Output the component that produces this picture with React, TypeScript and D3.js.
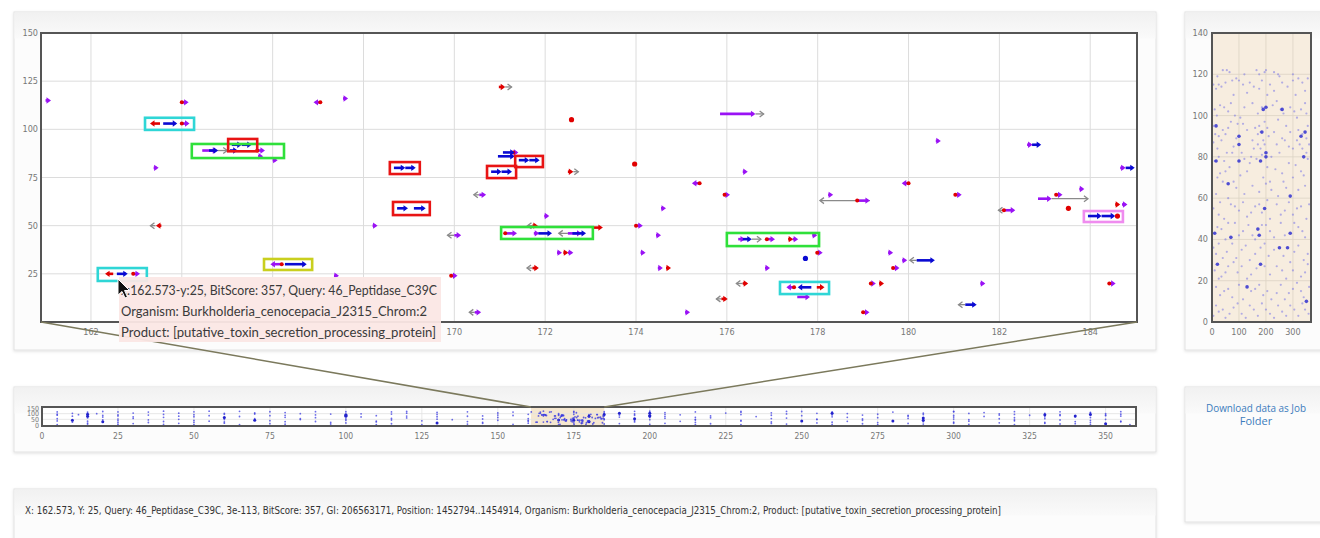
import React from 'react';
import * as d3 from 'd3';

// ---------- tick labels ----------
const mainXTicks = [162, 164, 166, 168, 170, 172, 174, 176, 178, 180, 182, 184];
const mainYTicks = [25, 50, 75, 100, 125, 150];
const ovXTicks = [0, 25, 50, 75, 100, 125, 150, 175, 200, 225, 250, 275, 300, 325, 350];
const ovYTicks = [0, 50, 100, 150];
const miniXTicks = [0, 100, 200, 300];
const miniYTicks = [0, 20, 40, 60, 80, 100, 120, 140];

// ---------- zoomed features: [start, y, signed length, red tail] ----------
const purpleFeatures: number[][] = [
  [161.0, 115, 0.12, 0], [164.0, 114, 0.15, 1], [164.0, 103, 0.17, 1], [164.45, 89, 0.33, 0],
  [165.66, 89, 0.17, 1], [165.68, 86, 0.08, 0], [166.0, 84, 0.1, 0], [163.38, 80, 0.1, 0],
  [166.2, 30, -0.25, 1], [162.93, 25, 0.15, 1], [167.35, 24, 0.1, 0], [167.05, 114, -0.15, 1],
  [167.55, 116, 0.1, 0], [168.2, 50, 0.1, 0], [171.3, 88, 0.1, 1], [175.85, 108, 0.78, 0],
  [176.35, 78, 0.1, 0], [175.4, 72, -0.17, 1], [175.95, 66, 0.12, 1], [170.55, 66, 0.15, 0],
  [171.98, 55, 0.1, 0], [174.0, 50, 0.15, 1], [174.55, 59, 0.1, 0], [171.12, 46, 0.26, 1],
  [171.75, 46, 0.12, 0], [172.5, 46, 0.3, 0], [170.0, 45, 0.15, 0], [174.44, 45, 0.1, 0],
  [172.26, 36, 0.1, 0], [172.5, 36, 0.12, 0], [174.1, 36, 0.1, 0], [174.48, 28, 0.1, 0],
  [176.84, 28, 0.1, 0], [169.93, 24, 0.14, 1], [170.45, 5, 0.14, 0], [175.08, 5, 0.1, 0],
  [180.6, 94, 0.1, 0], [182.61, 92, 0.12, 0], [184.66, 80, 0.12, 0], [180.0, 72, -0.15, 1],
  [178.23, 66, 0.1, 0], [181.03, 66, 0.14, 1], [178.87, 63, 0.28, 1], [182.85, 64, 0.3, 0],
  [183.25, 66, 0.14, 1], [183.76, 69, 0.1, 0], [182.1, 58, 0.25, 1], [184.7, 61, 0.12, 0],
  [176.25, 43, 0.15, 0], [176.88, 43, 0.18, 1], [177.45, 43, 0.12, 0], [177.88, 45, 0.1, 0],
  [177.99, 36, 0.12, 1], [179.55, 36, 0.1, 0], [179.66, 28, 0.14, 1], [179.86, 32, 0.1, 0],
  [177.48, 18, -0.17, 1], [177.55, 13, 0.28, 0], [179.17, 20, 0.1, 1], [181.58, 20, 0.1, 0],
  [184.42, 20, 0.14, 1], [179.0, 5, 0.14, 1],
];
const blueFeatures: number[][] = [
  [163.59, 103, 0.31], [165.1, 92, 0.22], [165.32, 92, 0.22], [164.6, 89, 0.2], [165.06, 89, 0.17],
  [166.27, 30, 0.48], [162.57, 25, 0.24], [168.67, 80, 0.25], [168.92, 80, 0.23], [168.74, 59, 0.24],
  [169.11, 59, 0.26], [171.07, 88, 0.26], [170.96, 86, 0.37], [171.42, 84, 0.23], [171.65, 84, 0.23],
  [170.81, 78, 0.23], [171.04, 78, 0.23], [171.85, 46, 0.3], [172.6, 46, 0.3], [182.72, 92, 0.2],
  [184.78, 80, 0.2], [183.95, 55, 0.3], [184.25, 55, 0.3], [176.35, 43, 0.2], [177.73, 33, 0.04],
  [180.18, 32, 0.4], [177.86, 18, -0.3], [181.25, 9, 0.25],
];
const redFeatures: number[][] = [
  [163.52, 103, -0.22], [162.49, 25, -0.18], [163.55, 50, -0.12], [170.98, 122, 0.14],
  [172.58, 105, 0.04], [172.5, 78, 0.12], [173.97, 82, 0.04], [171.72, 50, 0.12], [173.05, 49, 0.22],
  [172.4, 36, 0.1], [171.72, 28, 0.14], [174.66, 28, 0.1], [176.35, 20, 0.12], [175.88, 12, 0.14],
  [183.52, 59, 0.04], [184.55, 61, 0.08], [184.6, 55, 0.04], [177.35, 43, 0.08], [177.98, 18, 0.17],
  [179.35, 20, 0.08],
];
const grayFeatures: number[][] = [
  [164.78, 89, 0.22], [163.42, 50, -0.1], [171.12, 122, 0.14], [172.62, 78, 0.1], [176.63, 108, 0.18],
  [170.55, 66, -0.12], [171.72, 50, -0.1], [172.5, 46, -0.2], [170.0, 45, -0.15], [171.72, 28, -0.12],
  [170.45, 5, -0.12], [176.35, 20, -0.14], [179.15, 63, -1.1], [183.15, 64, 0.8], [182.1, 58, -0.12],
  [176.55, 43, 0.2], [180.18, 32, -0.15], [181.25, 9, -0.15], [175.88, 12, -0.1],
];

// ---------- highlight boxes: [x0, x1, yTop, yBottom, colour] ----------
const clusterBoxes: (number | string)[][] = [
  [163.19, 164.27, 106.0, 99.7, '#2fd6d6'],
  [164.22, 166.25, 92.4, 85.1, '#2fe03a'],
  [165.02, 165.66, 95.0, 88.6, '#e81414'],
  [168.58, 169.24, 83.0, 76.8, '#e81414'],
  [168.65, 169.46, 62.3, 55.5, '#e81414'],
  [165.81, 166.87, 32.7, 27.0, '#c9cf1e'],
  [162.15, 163.23, 28.0, 21.3, '#2fd6d6'],
  [171.34, 171.95, 86.2, 80.4, '#e81414'],
  [170.72, 171.36, 81.0, 74.7, '#e81414'],
  [171.03, 173.05, 49.3, 43.1, '#2fe03a'],
  [176.0, 178.03, 46.2, 39.4, '#2fe03a'],
  [177.17, 178.25, 20.8, 14.5, '#2fd6d6'],
  [183.86, 184.72, 57.6, 51.9, '#ef8cef'],
];

// ---------- whole-genome hits (overview strip and side chart) ----------
const genomeHits: number[][] = [
  [40, 122], [55, 122], [65, 121], [120, 120], [165, 122], [175, 120], [195, 121], [200, 122], [230, 121], [245, 120], [300, 120],
  [5, 115], [15, 113], [25, 115], [35, 114], [50, 116], [75, 117], [90, 118], [100, 117], [115, 115], [140, 116], [155, 114],
  [175, 113], [185, 117], [215, 115], [230, 112], [260, 116], [280, 114], [300, 117], [320, 118], [335, 116], [345, 112],
  [10, 103], [30, 105], [45, 104], [60, 102], [85, 100], [120, 104], [150, 106], [185, 104], [225, 105], [255, 103],
  [265, 101], [290, 104], [305, 102], [330, 103], [350, 101],
  [5, 95], [25, 90], [40, 93], [50, 91], [70, 97], [95, 96], [130, 93], [160, 94], [180, 92], [195, 97], [210, 90],
  [230, 92], [245, 98], [275, 95], [320, 93], [335, 91], [355, 95],
  [5, 87], [20, 84], [35, 88], [55, 82], [80, 85], [110, 82], [145, 80], [170, 86], [180, 84], [190, 88], [220, 80],
  [240, 86], [270, 88], [300, 84], [325, 86], [350, 82],
  [10, 78], [30, 72], [50, 73], [65, 75], [140, 77], [165, 79], [205, 75], [235, 74], [260, 72], [285, 77], [310, 76],
  [330, 73], [355, 79],
  [15, 62], [40, 68], [90, 65], [120, 62], [150, 66], [175, 63], [200, 67], [220, 64], [245, 61], [265, 68], [320, 64], [345, 66],
  [5, 55], [25, 52], [45, 50], [70, 57], [100, 54], [130, 51], [160, 56], [185, 53], [215, 50], [240, 57], [270, 54],
  [300, 52], [330, 56], [350, 50],
  [20, 46], [50, 40], [85, 48], [115, 44], [150, 42], [200, 47], [230, 41], [255, 48], [320, 46], [345, 41],
  [5, 36], [15, 33], [40, 31], [75, 38], [110, 35], [140, 30], [180, 36], [210, 32], [305, 34], [340, 30],
  [10, 25], [35, 22], [60, 27], [95, 24], [130, 21], [165, 26], [215, 23], [240, 27], [275, 21], [300, 25], [330, 22], [355, 28],
  [15, 17], [45, 15], [75, 12], [100, 18], [160, 16], [190, 13], [220, 11], [255, 18], [285, 14], [315, 19], [340, 12],
  [5, 3], [25, 5], [50, 2], [80, 7], [110, 4], [140, 8], [170, 3], [200, 6], [230, 2], [260, 5], [290, 8], [320, 3], [345, 6],
  [20, 119], [80, 110], [130, 111], [205, 110], [250, 119], [310, 110], [355, 118],
  [18, 100], [70, 106], [105, 99], [170, 101], [240, 107], [315, 99], [345, 106],
  [12, 91], [60, 94], [90, 89], [115, 96], [150, 88], [170, 91], [175, 95], [205, 94], [260, 89], [290, 92], [315, 88], [350, 89],
  [25, 80], [45, 78], [75, 82], [120, 79], [155, 84], [185, 81], [195, 86], [250, 82], [285, 85], [335, 84], [360, 86],
  [20, 70], [80, 68], [105, 71], [130, 73], [190, 70], [215, 68], [275, 65], [300, 70], [340, 71],
  [30, 58], [60, 60], [85, 56], [115, 58], [145, 53], [175, 57], [205, 59], [255, 52], [285, 58], [315, 55], [360, 57],
  [35, 45], [60, 48], [100, 42], [135, 47], [160, 40], [185, 47], [215, 44], [270, 42], [305, 48], [335, 44],
  [25, 38], [55, 34], [90, 31], [125, 37], [160, 33], [195, 38], [230, 35], [265, 32], [320, 37], [355, 33],
  [25, 21], [50, 24], [80, 29], [110, 27], [145, 23], [195, 27], [260, 25], [290, 29], [345, 24],
  [30, 13], [60, 16], [115, 11], [145, 15], [175, 18], [205, 15], [240, 14], [270, 11], [300, 16], [330, 15], [360, 17],
  [15, 8], [40, 6], [65, 4], [95, 9], [125, 2], [155, 6], [185, 9], [215, 4], [245, 8], [275, 3], [305, 6], [335, 9], [358, 4],
];
const genomeStrongHits: number[][] = [
  [15, 78], [15, 95], [100, 78], [100, 86], [180, 78], [185, 92], [190, 103], [200, 104], [200, 82], [60, 67],
  [195, 55], [170, 45], [175, 42], [10, 43], [290, 43], [340, 80], [330, 90], [345, 92], [250, 36], [280, 36],
  [20, 28], [180, 28], [260, 103], [70, 41], [290, 61], [350, 10], [130, 17], [100, 90], [200, 80],
];

const tooltipLines = [
  'x:162.573-y:25, BitScore: 357, Query: 46_Peptidase_C39C',
  'Organism: Burkholderia_cenocepacia_J2315_Chrom:2',
  'Product: [putative_toxin_secretion_processing_protein]',
];
const infoText =
  'X: 162.573, Y: 25, Query: 46_Peptidase_C39C, 3e-113, BitScore: 357, GI: 206563171, Position: 1452794..1454914, Organism: Burkholderia_cenocepacia_J2315_Chrom:2, Product: [putative_toxin_secretion_processing_protein]';

const PURPLE = '#9a12f5';
const BLUE = '#0a0ad2';
const RED = '#e00000';
const GRAY = '#8a8a8a';
const AXIS_FONT = '"Liberation Sans Narrow", "DejaVu Sans Condensed", sans-serif';

// tooltip box (screen overlay, covers some axis labels as in the screenshot)
const TIP = { x: 119, y: 277, w: 322, h: 65 };

function Panel({ x, y, w, h }: { x: number; y: number; w: number; h: number }) {
  return (
    <g>
      <rect x={x} y={y} width={w} height={h} fill="#fcfcfc" stroke="#e2e2e2" filter="url(#shadow)" />
      <rect x={x + 0.5} y={y + 0.5} width={w - 1} height={26} fill="url(#band)" />
    </g>
  );
}

export default function App() {
  const xMain = d3.scaleLinear().domain([160.9, 185.03]).range([41, 1137]);
  const yMain = d3.scaleLinear().domain([0, 150]).range([322, 33]);
  const xOv = d3.scaleLinear().domain([0, 360]).range([42, 1136]);
  const yOv = d3.scaleLinear().domain([0, 150]).range([425, 408]);
  const xMini = d3.scaleLinear().domain([0, 367]).range([1212, 1311]);
  const yMini = d3.scaleLinear().domain([0, 140]).range([322, 33]);

  const solid = (f: number[], color: string, key: string) => {
    const [x, y, len, tail] = f;
    const py = yMain(y);
    const p0 = xMain(x);
    if (Math.abs(len) < 0.06) {
      return <circle key={key} cx={p0} cy={py} r={2.6} fill={color} />;
    }
    const dir = len > 0 ? 1 : -1;
    let p1 = xMain(x + len);
    if (Math.abs(p1 - p0) < 5) p1 = p0 + dir * 5;
    const head = `${p1},${py} ${p1 - dir * 4.5},${py - 3.2} ${p1 - dir * 4.5},${py + 3.2}`;
    return (
      <g key={key}>
        <line x1={p0} x2={p1 - dir * 2} y1={py} y2={py} stroke={color} strokeWidth={2.6} />
        <polygon points={head} fill={color} />
        {tail ? <circle cx={p0} cy={py} r={2} fill={RED} /> : null}
      </g>
    );
  };
  const grayArrow = (f: number[], key: string) => {
    const [x, y, len] = f;
    const py = yMain(y);
    const p0 = xMain(x);
    const dir = len > 0 ? 1 : -1;
    let p1 = xMain(x + len);
    if (Math.abs(p1 - p0) < 5) p1 = p0 + dir * 5;
    return (
      <g key={key} stroke={GRAY} strokeWidth={1.3} fill="none">
        <line x1={p0} x2={p1} y1={py} y2={py} />
        <polyline points={`${p1 - dir * 4},${py - 3} ${p1},${py} ${p1 - dir * 4},${py + 3}`} />
      </g>
    );
  };

  const [b0, b1] = [xOv(xMain.domain()[0]), xOv(xMain.domain()[1])];
  const visibleXLabels = mainXTicks.filter((t) => {
    const px = xMain(t);
    return px < TIP.x - 8 || px > TIP.x + TIP.w + 8;
  });

  return (
    <div style={{ position: 'absolute', left: 0, top: 0 }}>
      <svg width={1320} height={538} style={{ display: 'block', background: '#fff' }}>
        <defs>
          <filter id="shadow" x="-5%" y="-5%" width="110%" height="120%">
            <feDropShadow dx="0" dy="1" stdDeviation="1.5" floodColor="#000" floodOpacity="0.12" />
          </filter>
          <linearGradient id="band" x1="0" x2="0" y1="0" y2="1">
            <stop offset="0" stopColor="#f1f1f1" />
            <stop offset="1" stopColor="#fafafa" />
          </linearGradient>
          <clipPath id="mainClip">
            <rect x={41} y={33} width={1096} height={289} />
          </clipPath>
        </defs>

        {/* panels */}
        <Panel x={14} y={12} w={1142} h={338} />
        <Panel x={1185} y={12} w={150} h={338} />
        <Panel x={14} y={387} w={1142} h={65} />
        <Panel x={1185} y={387} w={150} h={135} />
        <Panel x={14} y={489} w={1142} h={60} />

        {/* ---------- main zoomed chart ---------- */}
        <rect x={41} y={33} width={1096} height={289} fill="#fff" />
        <g stroke="#dcdcdc" strokeWidth={1}>
          {mainXTicks.map((t) => (
            <line key={'gx' + t} x1={xMain(t)} x2={xMain(t)} y1={33} y2={322} />
          ))}
          {mainYTicks.map((t) => (
            <line key={'gy' + t} x1={41} x2={1137} y1={yMain(t)} y2={yMain(t)} />
          ))}
        </g>
        <g clipPath="url(#mainClip)">
          {grayFeatures.map((f, i) => grayArrow(f, 'g' + i))}
          {purpleFeatures.map((f, i) => solid(f, PURPLE, 'p' + i))}
          {blueFeatures.map((f, i) => solid(f, BLUE, 'b' + i))}
          {redFeatures.map((f, i) => solid(f, RED, 'r' + i))}
          {clusterBoxes.map((b, i) => {
            const x0 = xMain(b[0] as number);
            const x1 = xMain(b[1] as number);
            const y0 = yMain(b[2] as number);
            const y1 = yMain(b[3] as number);
            return (
              <rect key={'box' + i} x={x0} y={y0} width={x1 - x0} height={y1 - y0} fill="none" stroke={b[4] as string} strokeWidth={2.6} />
            );
          })}
        </g>
        <rect x={41} y={33} width={1096} height={289} fill="none" stroke="#555" strokeWidth={2} />
        <g fontFamily={AXIS_FONT} fontSize={9} fill="#777">
          {mainYTicks.map((t) => (
            <text key={'ly' + t} x={38} y={yMain(t) + 3} textAnchor="end">{t}</text>
          ))}
          {visibleXLabels.map((t) => (
            <text key={'lx' + t} x={xMain(t)} y={335} textAnchor="middle">{t}</text>
          ))}
        </g>

        {/* ---------- overview strip ---------- */}
        <rect x={42} y={407} width={1094} height={19} fill="#fff" />
        <rect x={b0} y={407} width={b1 - b0} height={19} fill="#f3e3c8" opacity={0.85} />
        <g stroke="#e2e2e2" strokeWidth={0.8}>
          {ovXTicks.map((t) => (
            <line key={'ogx' + t} x1={xOv(t)} x2={xOv(t)} y1={407} y2={426} />
          ))}
          {[50, 100].map((t) => (
            <line key={'ogy' + t} x1={42} x2={1136} y1={yOv(t)} y2={yOv(t)} />
          ))}
        </g>
        <g fill="#3a3ae0">
          {genomeHits.map((p, i) => (
            <circle key={'oh' + i} cx={xOv(p[0])} cy={yOv(p[1])} r={0.9} opacity={0.75} />
          ))}
          {genomeStrongHits.map((p, i) => (
            <circle key={'os' + i} cx={xOv(p[0])} cy={yOv(p[1])} r={1.5} fill="#2222cc" />
          ))}
          {[...purpleFeatures, ...blueFeatures].map((f, i) => (
            <circle key={'of' + i} cx={xOv(f[0])} cy={yOv(f[1])} r={0.9} opacity={0.8} />
          ))}
        </g>
        <rect x={42} y={407} width={1094} height={19} fill="none" stroke="#555" strokeWidth={2} />
        <g fontFamily={AXIS_FONT} fontSize={7} fill="#777">
          {ovYTicks.map((t) => (
            <text key={'oly' + t} x={39} y={yOv(t) + 2.5} textAnchor="end">{t}</text>
          ))}
        </g>
        <g fontFamily={AXIS_FONT} fontSize={8.5} fill="#777">
          {ovXTicks.map((t) => (
            <text key={'olx' + t} x={xOv(t)} y={439} textAnchor="middle">{t}</text>
          ))}
        </g>

        {/* ---------- zoom connectors ---------- */}
        <g stroke="#7b795c" strokeWidth={1.5}>
          <line x1={41} y1={322} x2={b0} y2={407} />
          <line x1={1137} y1={322} x2={b1} y2={407} />
        </g>

        {/* ---------- side chart ---------- */}
        <rect x={1212} y={33} width={99} height={289} fill="#f7eddf" />
        <g stroke="#dcd3c4" strokeWidth={0.8}>
          {miniXTicks.map((t) => (
            <line key={'mgx' + t} x1={xMini(t)} x2={xMini(t)} y1={33} y2={322} />
          ))}
          {miniYTicks.map((t) => (
            <line key={'mgy' + t} x1={1212} x2={1311} y1={yMini(t)} y2={yMini(t)} />
          ))}
        </g>
        <g>
          {genomeHits.map((p, i) => (
            <circle key={'mh' + i} cx={xMini(p[0])} cy={yMini(p[1])} r={1.1} fill="#7a76e6" opacity={0.55} />
          ))}
          {genomeStrongHits.map((p, i) => (
            <circle key={'ms' + i} cx={xMini(p[0])} cy={yMini(p[1])} r={1.8} fill="#3030d0" opacity={0.85} />
          ))}
        </g>
        <rect x={1212} y={33} width={99} height={289} fill="none" stroke="#555" strokeWidth={2} />
        <g fontFamily={AXIS_FONT} fontSize={9} fill="#777">
          {miniYTicks.map((t) => (
            <text key={'mly' + t} x={1208} y={yMini(t) + 3} textAnchor="end">{t}</text>
          ))}
          {miniXTicks.map((t) => (
            <text key={'mlx' + t} x={xMini(t)} y={335} textAnchor="middle">{t}</text>
          ))}
        </g>

        {/* ---------- download link ---------- */}
        <g fontFamily='"Liberation Sans Narrow", "Open Sans", sans-serif' fontSize={11} fill="#3c7cbd" textAnchor="middle">
          <text x={1256} y={412} textLength={100} lengthAdjust="spacingAndGlyphs">Download data as Job</text>
          <text x={1256} y={425}>Folder</text>
        </g>

        {/* ---------- info line ---------- */}
        <text x={25} y={514} fontFamily={AXIS_FONT} fontSize={10.5} fill="#333" textLength={976} lengthAdjust="spacingAndGlyphs">
          {infoText}
        </text>

        {/* ---------- tooltip ---------- */}
        <rect x={TIP.x} y={TIP.y} width={TIP.w} height={TIP.h} fill="#fbe7e5" opacity={0.95} />
        <g fontFamily='Lato, "Open Sans", sans-serif' fontSize={13.5} fill="#3a3a3a">
          {tooltipLines.map((l, i) => (
            <text key={'tt' + i} x={121} y={295 + i * 21} textLength={[316, 306, 315][i]} lengthAdjust="spacingAndGlyphs">
              {l}
            </text>
          ))}
        </g>
        <path
          d="M0,0 L0,16 L4,12.5 L7,19 L9.5,18 L6.5,11.5 L11.5,11.5 Z"
          transform="translate(118,279)"
          fill="#111"
          stroke="#fff"
          strokeWidth={1}
        />
      </svg>
    </div>
  );
}
